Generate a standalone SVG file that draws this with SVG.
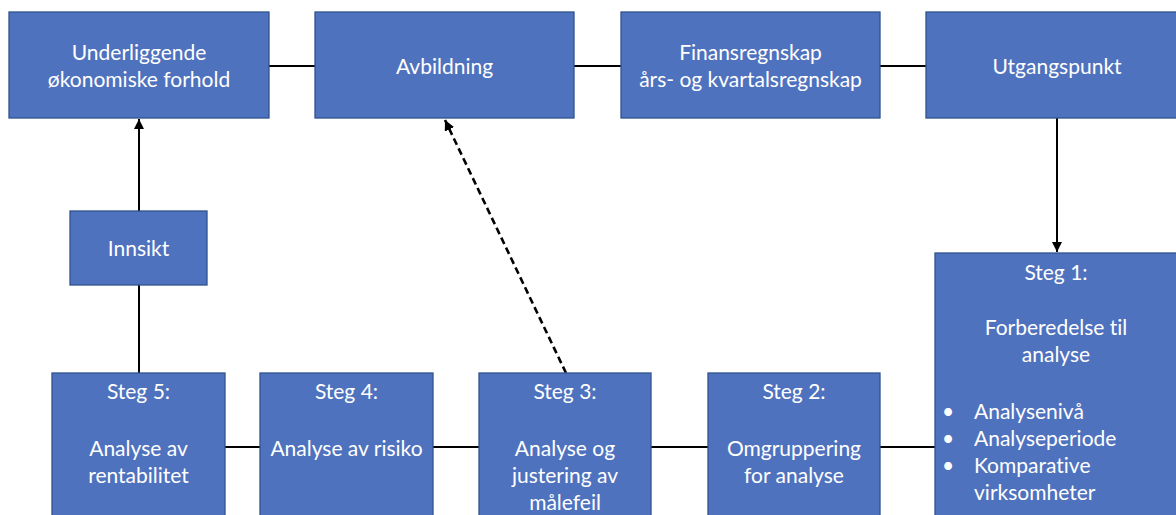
<svg xmlns="http://www.w3.org/2000/svg" width="1176" height="515" viewBox="0 0 1176 515">
  <style>
    .box { fill: #4F72BE; stroke: #2F528F; stroke-width: 1.3; }
    .lbl { font-family: Lato, "Open Sans", "Liberation Sans", sans-serif; font-size: 21px; fill: #FFFFFF; text-anchor: middle; font-variant-ligatures: none; }
    .lbl-l { font-family: Lato, "Open Sans", "Liberation Sans", sans-serif; font-size: 21px; fill: #FFFFFF; text-anchor: start; font-variant-ligatures: none; }
    .link { stroke: #000000; stroke-width: 2; fill: none; }
    .dash { stroke: #000000; stroke-width: 2.6; fill: none; stroke-dasharray: 7 4; }
  </style>
  <defs>
    <marker id="arrow" viewBox="0 0 10 10" refX="10" refY="5" markerWidth="5" markerHeight="5" orient="auto" markerUnits="strokeWidth">
      <path d="M0,0 L10,5 L0,10 z" fill="#000000"/>
    </marker>
    <marker id="arrow-s" viewBox="0 0 10 10" refX="10" refY="5" markerWidth="4" markerHeight="4" orient="auto" markerUnits="strokeWidth">
      <path d="M0,0 L10,5 L0,10 z" fill="#000000"/>
    </marker>
  </defs>

  <!-- connectors -->
  <g id="connectors">
    <line class="link" x1="269" y1="66" x2="315" y2="66"/>
    <line class="link" x1="574" y1="66" x2="621" y2="66"/>
    <line class="link" x1="880" y1="66" x2="926" y2="66"/>
    <line class="link" x1="1057" y1="118" x2="1057" y2="252" marker-end="url(#arrow)"/>
    <line class="link" x1="880" y1="447" x2="935" y2="447"/>
    <line class="link" x1="651" y1="447" x2="708" y2="447"/>
    <line class="link" x1="433" y1="447" x2="479" y2="447"/>
    <line class="link" x1="225" y1="447" x2="260" y2="447"/>
    <line class="link" x1="139" y1="373" x2="139" y2="285"/>
    <line class="link" x1="139" y1="211" x2="139" y2="119" marker-end="url(#arrow)"/>
    <line class="dash" x1="566" y1="373" x2="445" y2="120" marker-end="url(#arrow-s)"/>
  </g>

  <!-- top row -->
  <g id="underliggende">
    <rect class="box" x="9" y="12" width="260" height="106"/>
    <text class="lbl" x="139" y="60">Underliggende</text>
    <text class="lbl" x="139" y="87">økonomiske forhold</text>
  </g>
  <g id="avbildning">
    <rect class="box" x="315" y="12" width="259" height="106"/>
    <text class="lbl" x="444.5" y="74">Avbildning</text>
  </g>
  <g id="finansregnskap">
    <rect class="box" x="621" y="12" width="259" height="106"/>
    <text class="lbl" x="750.5" y="60">Finansregnskap</text>
    <text class="lbl" x="750.5" y="87">års- og kvartalsregnskap</text>
  </g>
  <g id="utgangspunkt">
    <rect class="box" x="926" y="12" width="262" height="106"/>
    <text class="lbl" x="1057" y="74">Utgangspunkt</text>
  </g>

  <!-- insight -->
  <g id="innsikt">
    <rect class="box" x="70" y="211" width="137" height="74"/>
    <text class="lbl" x="138.5" y="256">Innsikt</text>
  </g>

  <!-- steps -->
  <g id="steg1">
    <rect class="box" x="935" y="253" width="250" height="270"/>
    <text class="lbl" x="1056" y="280">Steg 1:</text>
    <text class="lbl" x="1056" y="335">Forberedelse til</text>
    <text class="lbl" x="1056" y="362">analyse</text>
    <text class="lbl" x="948" y="419">•</text>
    <text class="lbl-l" x="974" y="419">Analysenivå</text>
    <text class="lbl" x="948" y="446">•</text>
    <text class="lbl-l" x="974" y="446">Analyseperiode</text>
    <text class="lbl" x="948" y="473">•</text>
    <text class="lbl-l" x="974" y="473">Komparative</text>
    <text class="lbl-l" x="974" y="500">virksomheter</text>
  </g>
  <g id="steg2">
    <rect class="box" x="708" y="373" width="172" height="150"/>
    <text class="lbl" x="794" y="399">Steg 2:</text>
    <text class="lbl" x="794" y="456">Omgruppering</text>
    <text class="lbl" x="794" y="483">for analyse</text>
  </g>
  <g id="steg3">
    <rect class="box" x="479" y="373" width="172" height="150"/>
    <text class="lbl" x="565" y="399">Steg 3:</text>
    <text class="lbl" x="565" y="456">Analyse og</text>
    <text class="lbl" x="565" y="483">justering av</text>
    <text class="lbl" x="565" y="510">målefeil</text>
  </g>
  <g id="steg4">
    <rect class="box" x="260" y="373" width="173" height="150"/>
    <text class="lbl" x="346.5" y="399">Steg 4:</text>
    <text class="lbl" x="346.5" y="456">Analyse av risiko</text>
  </g>
  <g id="steg5">
    <rect class="box" x="52" y="373" width="173" height="150"/>
    <text class="lbl" x="138.5" y="399">Steg 5:</text>
    <text class="lbl" x="138.5" y="456">Analyse av</text>
    <text class="lbl" x="138.5" y="483">rentabilitet</text>
  </g>
</svg>
